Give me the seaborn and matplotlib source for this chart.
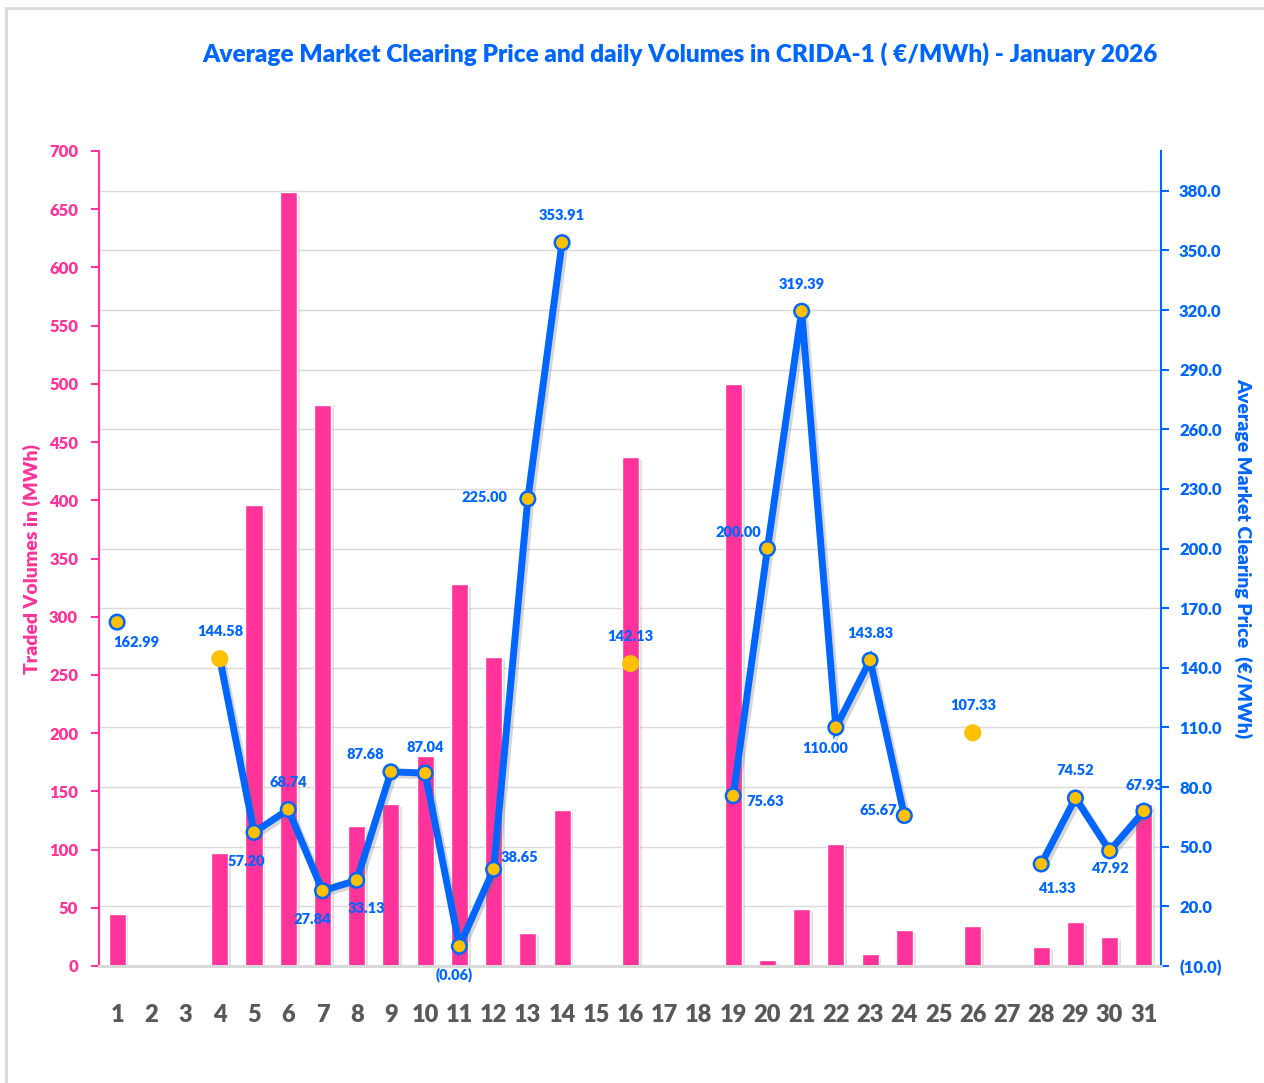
import matplotlib
matplotlib.use("Agg")
import matplotlib.pyplot as plt
import matplotlib.patheffects as pe
from matplotlib.patches import Rectangle
import numpy as np
import pandas as pd
import seaborn as sns

# Daily values for January 2026
days = [str(d) for d in range(1, 32)]
volumes = [45, 0, 0, 97, 396, 665, 482, 120, 139, 180, 328, 265, 28, 134, 0,
           437, 0, 0, 500, 5, 49, 105, 10, 31, 0, 34, 0, 16, 38, 25, 139]
prices = [162.99, np.nan, np.nan, 144.58, 57.20, 68.74, 27.84, 33.13, 87.68, 87.04,
          -0.06, 38.65, 225.00, 353.91, np.nan, 142.13, np.nan, np.nan, 75.63, 200.00,
          319.39, 110.00, 143.83, 65.67, np.nan, 107.33, np.nan, 41.33, 74.52, 47.92, 67.93]

vol_ticks = list(range(0, 701, 50))
price_ticks = list(range(-10, 381, 30))

PINK = "#FF3399"
BLUE = "#0066FF"
GOLD = "#FFC000"
GRAY = "#595959"

sns.set_style("white")
plt.rcParams["font.family"] = ["Lato", "DejaVu Sans"]

fig = plt.figure(figsize=(12.64, 10.83), dpi=100)
ax = fig.add_axes([99 / 1264, 1 - 966 / 1083, (1161 - 99) / 1264, (966 - 151) / 1083])
ax2 = ax.twinx()

# outer frame
fig.patches.append(Rectangle((6 / 1264, -0.05), 1.1, 1 - 8 / 1083 + 0.05, transform=fig.transFigure,
                             fill=False, edgecolor="#d9d9d9", linewidth=2))

df = pd.DataFrame({"day": days, "volume": volumes, "price": prices})

# bars (volumes) on left axis
sns.barplot(data=df, x="day", y="volume", ax=ax, color=PINK, saturation=1, width=0.5, zorder=2)
for bar in ax.patches:
    bar.set_path_effects([pe.SimplePatchShadow(offset=(2, -2), shadow_rgbFace="#999999", alpha=0.3),
                          pe.Normal()])

ax.set_xlim(-0.53, 30.5)
ax.set_ylim(0, 700)
ax.set_yticks(vol_ticks)
ax.set_xlabel("")
ax.set_ylabel("Traded Volumes in (MWh)", color=PINK, fontsize=14, fontweight="heavy")
ax.yaxis.set_label_coords(-0.055, 0.5)

ax2.set_ylim(-10, 400)
ax2.set_yticks(price_ticks)
ax2.set_yticklabels([f"({abs(p):.1f})" if p < 0 else f"{p:.1f}" for p in price_ticks])
ax2.set_ylabel("Average Market Clearing Price  (€/MWh)", color=BLUE, fontsize=14,
               fontweight="heavy", rotation=-90, va="bottom")
ax2.yaxis.set_label_coords(1.069, 0.5)

# gridlines follow the price axis, drawn behind the bars
for p in price_ticks:
    ax.axhline((p + 10) / 410 * 700, color="#d9d9d9", linewidth=1, zorder=0)

# price line
x = np.arange(len(days))
ax2.plot(x, prices, color=BLUE, linewidth=5, solid_joinstyle="miter", zorder=3,
         path_effects=[pe.SimpleLineShadow(offset=(2, -2), shadow_color="#777777", alpha=0.3),
                       pe.Normal()])
edge = [BLUE] * len(days)
for i in (3, 15, 25):
    edge[i] = GOLD
ax2.scatter(x, prices, s=110, color=GOLD, edgecolors=edge, linewidths=1.8, zorder=4)

# data label offsets in pixels (dx, dy)
offsets = {0: (19, -20), 3: (0, 27), 4: (-8, -29), 5: (0, 27), 6: (-10, -29), 7: (10, -28),
           8: (-26, 17), 9: (0, 26), 10: (-5, -28), 11: (26, 12), 12: (-43, 1), 13: (0, 27),
           15: (0, 27), 18: (32, -6), 19: (-29, 16), 20: (0, 27), 21: (-11, -21), 22: (0, 27),
           23: (-26, 5), 25: (0, 27), 27: (16, -25), 28: (0, 27), 29: (0, -18), 30: (0, 26)}
for i, p in enumerate(prices):
    if np.isnan(p):
        continue
    label = f"({abs(p):.2f})" if p < 0 else f"{p:.2f}"
    ax2.annotate(label, (i, p), xytext=offsets[i], textcoords="offset pixels",
                 ha="center", va="center", color=BLUE, fontsize=10.5, fontweight="heavy", zorder=5)

# axis styling
for a in (ax, ax2):
    a.spines["top"].set_visible(False)
    a.spines["bottom"].set_color("#d9d9d9")
    a.spines["bottom"].set_linewidth(2)
ax.spines["left"].set_color(PINK)
ax.spines["left"].set_linewidth(1.5)
ax.spines["right"].set_visible(False)
ax2.spines["left"].set_visible(False)
ax2.spines["right"].set_color(BLUE)
ax2.spines["right"].set_linewidth(1.5)

ax.tick_params(axis="y", colors=PINK, length=6, width=1.5, direction="out", left=True,
               labelsize=12, pad=9)
ax2.tick_params(axis="y", colors=BLUE, length=6, width=1.5, direction="out", right=True,
                labelsize=12, pad=7)
ax.tick_params(axis="x", length=0, pad=27, labelsize=17, labelcolor=GRAY)
for t in ax.get_yticklabels() + ax2.get_yticklabels() + ax.get_xticklabels():
    t.set_fontweight("heavy")

fig.text(680 / 1264, 1 - 54 / 1083, "Average Market Clearing Price and daily Volumes in CRIDA-1 ( €/MWh) - January 2026",
         ha="center", va="center", color=BLUE, fontsize=17.6, fontweight="heavy")

fig.savefig("out.png", dpi=100)
